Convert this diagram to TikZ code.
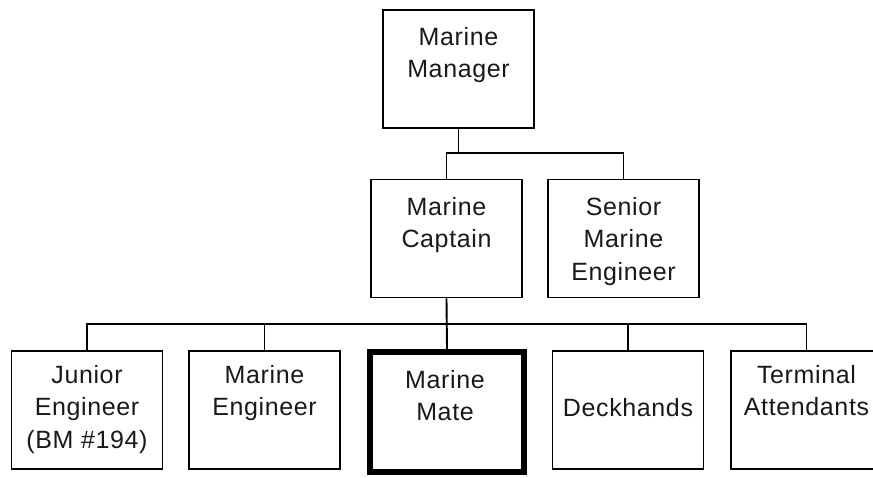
\documentclass[tikz,border=0pt]{standalone}
\usepackage{fontspec}
\setmainfont{Liberation Sans}[LetterSpace=2.5]
\begin{document}
\begin{tikzpicture}[x=1pt,y=-1pt,
  box/.style={draw=black,line width=1.9pt,minimum width=151pt,minimum height=118pt,inner sep=0pt},
  matebox/.style={draw=black,line width=6pt,minimum width=154pt,minimum height=119.5pt,inner sep=0pt},
  lbl/.style={anchor=north,inner sep=0pt,align=center,text=black!90,
    font=\fontsize{25}{32.5}\selectfont},
  conn/.style={draw=black,line width=1.9pt}]
\useasboundingbox (0,0) rectangle (873,477);
\clip (0,0) rectangle (873,477);
% boxes
\node[box] (mgr) at (458.5,69) {};
\node[box] (cap) at (446.5,238.5) {};
\node[box] (sen) at (623.5,238.5) {};
\node[box] (jun) at (87,410) {};
\node[box] (me) at (264.5,410) {};
\node[matebox] (mate) at (447,412) {};
\node[box] (deck) at (628,410) {};
\node[box] (term) at (806.5,410) {};
% labels
\node[lbl] (tmgr) at (458.5,27) {Marine\\Manager};
\node[lbl] (tcap) at (446.5,197) {Marine\\Captain};
\node[lbl] (tsen) at (623.5,197) {Senior\\Marine\\Engineer};
\node[lbl] (tjun) at (87,365) {Junior\\Engineer\\(BM \#194)};
\node[lbl] (tme) at (264.5,365) {Marine\\Engineer};
\node[lbl] (tmate) at (445,370) {Marine\\Mate};
\node[lbl] (tdeck) at (628,398.5) {Deckhands};
\node[lbl] (tterm) at (806.5,365) {Terminal\\Attendants};
% connectors
\coordinate (b1) at (458.5,153);
\coordinate (b2) at (446.5,324);
\draw[conn] (mgr.south) -- (b1);
\draw[conn] (cap.north) |- (b1) -| (sen.north);
\draw[conn] (cap.south) -- (mate.north);
\draw[conn] (jun.north) |- (b2) -| (term.north);
\draw[conn] (me.north) -- (me.north |- b2);
\draw[conn] (deck.north) -- (deck.north |- b2);
\end{tikzpicture}
\end{document}
